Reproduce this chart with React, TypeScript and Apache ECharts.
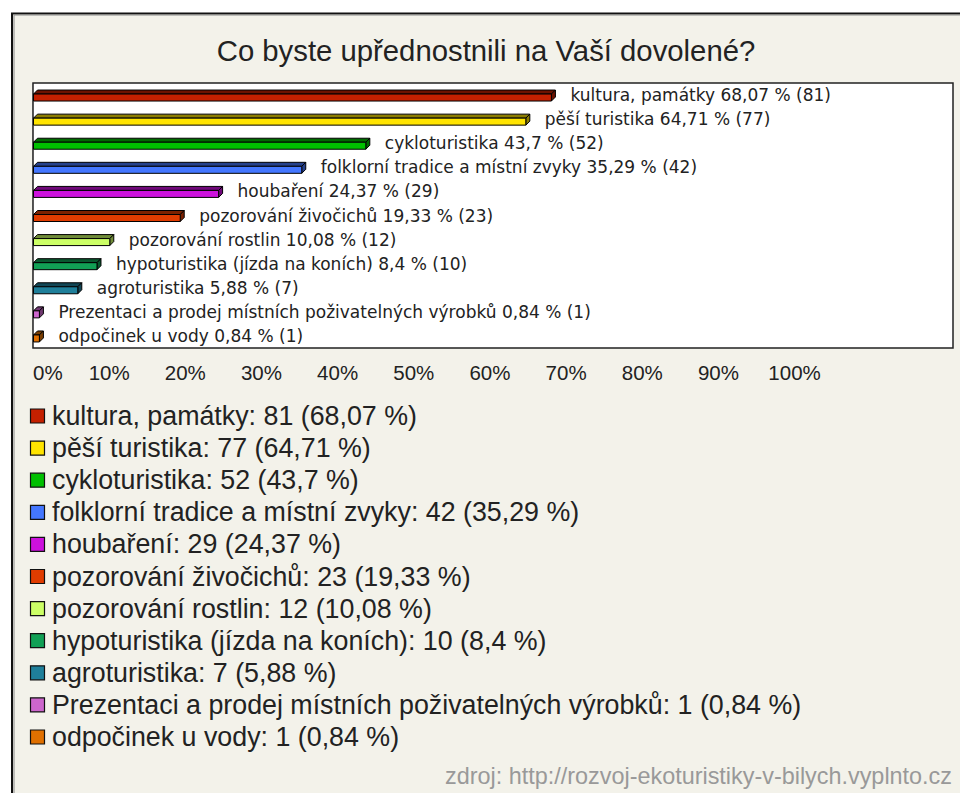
import React, { useEffect, useRef } from "react";
import * as echarts from "echarts";

const categories = [
  "kultura, památky",
  "pěší turistika",
  "cykloturistika",
  "folklorní tradice a místní zvyky",
  "houbaření",
  "pozorování živočichů",
  "pozorování rostlin",
  "hypoturistika (jízda na koních)",
  "agroturistika",
  "Prezentaci a prodej místních poživatelných výrobků",
  "odpočinek u vody",
];
const counts = [81, 77, 52, 42, 29, 23, 12, 10, 7, 1, 1];
const percents = [68.07, 64.71, 43.7, 35.29, 24.37, 19.33, 10.08, 8.4, 5.88, 0.84, 0.84];
const colors = [
  "#c42000",
  "#ffe400",
  "#00c000",
  "#4477ff",
  "#cc11dd",
  "#e03c00",
  "#ccff66",
  "#11a055",
  "#1f7f9a",
  "#cc66cc",
  "#e07000",
];
const tickValues = [0, 10, 20, 30, 40, 50, 60, 70, 80, 90, 100];

const title = "Co byste upřednostnili na Vaší dovolené?";
const source = "zdroj: http://rozvoj-ekoturistiky-v-bilych.vyplnto.cz";

const FONT = "'Liberation Sans', Arial, sans-serif";
const LABEL_FONT = "'DejaVu Sans', Verdana, sans-serif";

function fmt(v: number) {
  return String(v).replace(".", ",");
}
function darken(hex: string, f: number) {
  const n = parseInt(hex.slice(1), 16);
  const r = Math.round(((n >> 16) & 255) * f);
  const g = Math.round(((n >> 8) & 255) * f);
  const b = Math.round((n & 255) * f);
  return `rgb(${r},${g},${b})`;
}

export default function App() {
  const ref = useRef<HTMLDivElement>(null);
  useEffect(() => {
    if (!ref.current) return;
    const chart = echarts.init(ref.current, null, { renderer: "svg" });
    const maxTick = tickValues[tickValues.length - 1];

    const legendItems: any[] = [];
    categories.forEach((c, i) => {
      const cy = 416 + i * 32.1;
      legendItems.push({
        type: "rect",
        shape: { x: 30.5, y: cy - 7, width: 14, height: 14 },
        style: { fill: colors[i], stroke: "#111", lineWidth: 1.2 },
        z: 10,
      });
      legendItems.push({
        type: "text",
        x: 52,
        y: cy,
        style: {
          text: `${c}: ${counts[i]} (${fmt(percents[i])} %)`,
          fill: "#222",
          font: `26.8px ${FONT}`,
          verticalAlign: "middle",
        },
        z: 10,
      });
    });

    chart.setOption({
      animation: false,
      backgroundColor: "#ffffff",
      grid: {
        left: 33,
        top: 83,
        right: 7,
        bottom: 445,
        show: true,
        backgroundColor: "#ffffff",
        borderColor: "#222",
        borderWidth: 1.5,
        z: 2,
      },
      xAxis: {
        type: "value",
        min: 0,
        max: 120.8,
        interval: 10,
        axisLine: { show: false },
        axisTick: { show: false },
        axisLabel: {
          margin: 14,
          color: "#222",
          fontFamily: FONT,
          fontSize: 20.5,
          alignMinLabel: "left",
          formatter: (v: number) => (v <= maxTick ? `${v}%` : ""),
        },
        splitLine: {
          show: true,
          lineStyle: {
            width: 1.5,
            color: [
              "#cccccc", "#cccccc", "#cccccc", "#cccccc", "#cccccc", "#cccccc",
              "#cccccc", "#cccccc", "#cccccc", "#cccccc", "#cccccc",
              "rgba(0,0,0,0)", "rgba(0,0,0,0)", "rgba(0,0,0,0)",
            ],
          },
        },
      },
      yAxis: {
        type: "category",
        data: categories,
        inverse: true,
        axisLine: { show: false },
        axisTick: { show: false },
        axisLabel: { show: false },
        splitLine: { show: false },
      },
      series: [
        {
          type: "custom",
          clip: false,
          z: 5,
          encode: { x: 0, y: 1 },
          data: percents.map((p, i) => [p, i]),
          renderItem: (params: any, api: any) => {
            const i = params.dataIndex;
            const v = api.value(0);
            const idx = api.value(1);
            const s = api.coord([0, idx]);
            const e = api.coord([v, idx]);
            const x0 = s[0] + 0.5;
            const x1 = e[0];
            const cy = e[1];
            const h = 7;
            const d = 4;
            const yTop = cy - 1;
            const yBot = yTop + h;
            const dark = darken(colors[i], 0.55);
            return {
              type: "group",
              children: [
                {
                  type: "polygon",
                  shape: { points: [[x0, yTop], [x0 + d, yTop - d], [x1 + d, yTop - d], [x1, yTop]] },
                  style: { fill: dark, stroke: "#000", lineWidth: 1 },
                },
                {
                  type: "polygon",
                  shape: { points: [[x1, yTop], [x1 + d, yTop - d], [x1 + d, yBot - d], [x1, yBot]] },
                  style: { fill: dark, stroke: "#000", lineWidth: 1 },
                },
                {
                  type: "rect",
                  shape: { x: x0, y: yTop, width: x1 - x0, height: h },
                  style: { fill: colors[i], stroke: "#000", lineWidth: 1 },
                },
                {
                  type: "text",
                  x: x1 + d + 15,
                  y: cy,
                  style: {
                    text: `${categories[i]} ${fmt(percents[i])} % (${counts[i]})`,
                    fill: "#222",
                    font: `17px ${LABEL_FONT}`,
                    verticalAlign: "middle",
                  },
                },
              ],
            };
          },
        },
      ],
      graphic: [
        {
          type: "rect",
          z: -10,
          silent: true,
          shape: { x: 12, y: 13.5, width: 960, height: 800 },
          style: { fill: "#f3f2ea", stroke: "#111", lineWidth: 2 },
        },
        {
          type: "polyline",
          z: -9,
          silent: true,
          shape: { points: [[14, 800], [14, 15], [960, 15]] },
          style: { stroke: "#888", lineWidth: 1, fill: null },
        },
        {
          type: "text",
          x: 486,
          y: 50,
          z: 10,
          style: {
            text: title,
            fill: "#222",
            font: `29.3px ${FONT}`,
            textAlign: "center",
            verticalAlign: "middle",
          },
        },
        ...legendItems,
        {
          type: "text",
          x: 952,
          y: 776,
          z: 10,
          style: {
            text: source,
            fill: "#999",
            font: `23.4px ${FONT}`,
            textAlign: "right",
            verticalAlign: "middle",
          },
        },
      ],
    });
    return () => chart.dispose();
  }, []);
  return (
    <div
      ref={ref}
      style={{ position: "fixed", left: 0, top: 0, width: 960, height: 793 }}
    />
  );
}
